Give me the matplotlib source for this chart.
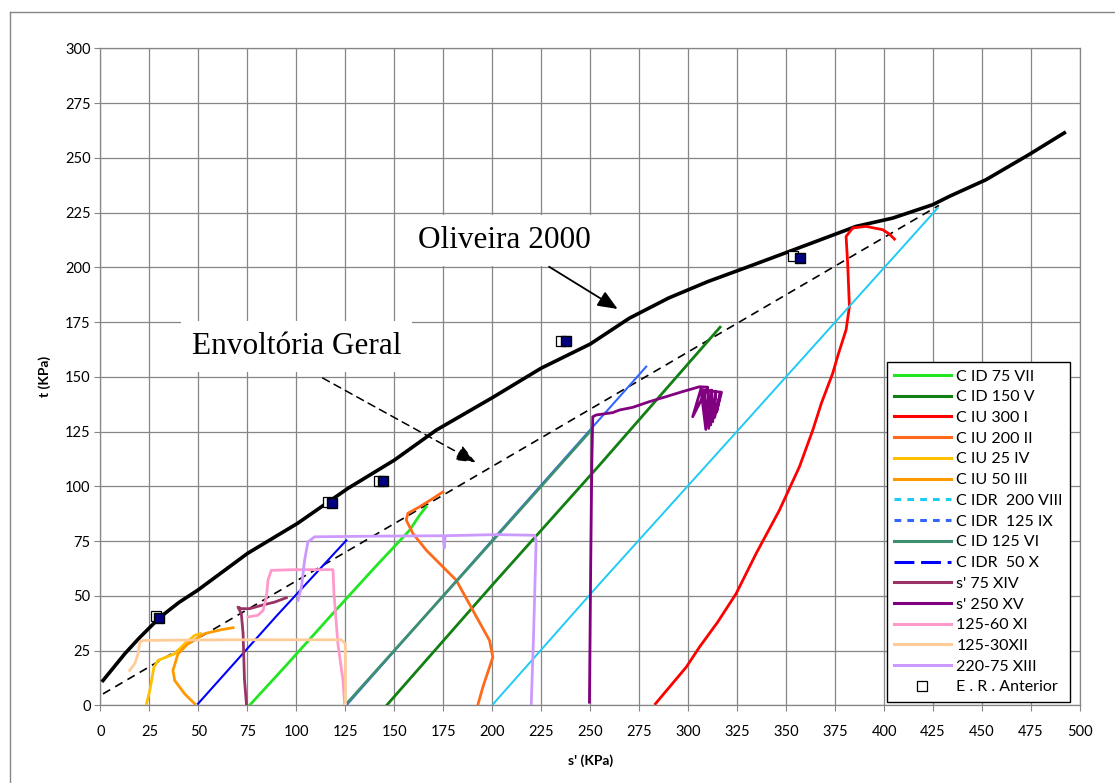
import matplotlib.pyplot as plt
from matplotlib.lines import Line2D

# values (s' and t in kPa)
oliveira_x = [1.3, 12.6, 20, 30.3, 40, 49.6, 75.2, 100.7, 126.3, 150, 171.4, 200, 225, 250,
              270, 290, 310, 331, 351.7, 385.7, 404.4, 424.8, 433.3, 452, 474, 492]
oliveira_y = [11.4, 23.8, 31, 40.2, 47, 52.6, 69.5, 83.2, 99.1, 112, 125.7, 140.5, 154, 165,
              176.8, 186, 193.5, 200.4, 207.3, 218.7, 222.5, 228.6, 232.4, 240, 251.5, 261.4]

envolt_x = [1.3, 428]
envolt_y = [5.3, 228.3]

cid75_x = [76, 95, 117, 140, 157.8, 163, 166.3]
cid75_y = [0, 18.5, 40.4, 63, 80, 87, 90.7]

cid150_x = [146, 200, 254.7, 316.3]
cid150_y = [0, 55, 109.7, 172.7]

ciu300_x = [283.3, 291, 299, 305.8, 315, 324.5, 334.7, 346.6, 356.8, 363.6, 368, 373.8, 376.5,
            380.6, 382.3, 381.4, 380.6, 384, 390.8, 399.3, 402.7, 405.3]
ciu300_y = [0.8, 9, 17.5, 26.7, 38, 51.1, 69.4, 89.2, 109, 125.7, 138, 151.7, 160,
            171.5, 182.1, 202, 214.1, 218, 218.7, 217.2, 215.2, 212.9]

ciu200_x = [192.7, 195.2, 200.3, 198.6, 190.1, 181.6, 173.1, 166.3, 159.5, 156.1, 156.9, 162.9, 169.7, 174.8]
ciu200_y = [0.5, 8.4, 22.1, 29.7, 43.4, 57.2, 64.8, 70.9, 78.5, 84.6, 87.7, 90.7, 94.5, 97.5]

ciu25_x = [23.5, 25.2, 27.3, 29.4, 37.9, 43, 48.1, 51.2]
ciu25_y = [0.8, 6.9, 17.5, 20.6, 23.6, 28.2, 32, 32.8]

ciu50_x = [48.1, 43, 37.9, 37.0, 39.6, 44.7, 53.2, 61.7, 67.7]
ciu50_y = [0.8, 5.3, 11.4, 16, 23.6, 28.2, 32.8, 34.6, 35.5]

cidr200_x = [200.3, 255, 324.8, 427.4]
cidr200_y = [0.5, 55.8, 125, 227.1]

cidr125_x = [125.5, 200, 278.6]
cidr125_y = [0, 75.5, 154.7]

cid125_x = [126.3, 190, 250.5]
cid125_y = [1.5, 65, 125.7]

cidr50_x = [49.8, 90, 125.5]
cidr50_y = [0.8, 41, 75.4]

s75_x = [74.5, 73.5, 72.8, 71.9, 70.2, 71.9, 76.2, 82.1, 88.9, 94.9]
s75_y = [0.8, 12, 32.8, 41.9, 44.9, 44.2, 44.2, 45.7, 47.2, 49.2]

s250_x = [249.6, 250.2, 250.8, 251.3, 253, 261.5, 265, 271.7, 280.2, 288.8, 297.2, 305.8, 310,
          302.3, 306.5, 309, 308, 310.5, 310, 311.5, 312, 312.5, 314, 313.5, 316.5, 314.5, 317, 307]
s250_y = [1.5, 60, 110, 131.8, 132.6, 133.7, 134.9, 136.1, 138.7, 141, 143.3, 145.5, 145.3,
          131.8, 144.5, 126, 144, 126.5, 144.5, 128, 144, 129.5, 143.5, 131.5, 143, 134, 143, 144]

x125_60_x = [75.3, 80.4, 83, 84.7, 85.5, 87.2, 99.1, 118.7, 119.2, 121.2, 123.8, 124.6]
x125_60_y = [40.4, 41.2, 43.4, 49.5, 57.2, 61.7, 62, 62, 51.1, 28.2, 11.4, 0.8]

x125_30_x = [14.9, 17.5, 19.2, 20.1, 21.7, 65.1, 122.9, 125, 125]
x125_30_y = [16, 19.1, 23.6, 29, 29.7, 30, 30, 28.2, 0.8]

x220_75_x = [100.8, 102.6, 104.2, 105.9, 109.3, 140, 175, 175.5, 176, 202, 221.6, 222.4, 221.1, 219.9]
x220_75_y = [48, 54.1, 66.3, 74.7, 77, 77.3, 77.5, 72, 77.5, 78, 77.7, 75.4, 32.8, 0.8]

er_x = [28.5, 116, 142.3, 235, 353.5]
er_y = [41, 93, 102.5, 166.6, 205]
er2_x = [30, 118.2, 144, 237.4, 357.1]
er2_y = [40, 92.5, 102.3, 166.6, 204.2]

labels = ["C ID 75 VII", "C ID 150 V", "C IU 300 I", "C IU 200 II", "C IU 25 IV", "C IU 50 III",
          "C IDR  200 VIII", "C IDR  125 IX", "C ID 125 VI", "C IDR  50 X", "s' 75 XIV",
          "s' 250 XV", "125-60 XI", "125-30XII", "220-75 XIII"]
colors = ['#22e622', '#127f12', '#ff0000', '#ff6a1a', '#ffc000', '#ff9900', '#1ecbf5', '#3366ff',
          '#3d8f70', '#0000ff', '#993366', '#800080', '#ff99cc', '#ffcc99', '#cc99ff']
legend_styles = ['-', '-', '-', '-', '-', '-', (0, (2.2, 2.0)), (0, (2.2, 2.0)), '-',
                 (0, (6.5, 2.2)), '-', '-', '-', '-', '-']
series = [(cid75_x, cid75_y), (cid150_x, cid150_y), (ciu300_x, ciu300_y), (ciu200_x, ciu200_y),
          (ciu25_x, ciu25_y), (ciu50_x, ciu50_y), (cidr200_x, cidr200_y), (cidr125_x, cidr125_y),
          (cid125_x, cid125_y), (cidr50_x, cidr50_y), (s75_x, s75_y), (s250_x, s250_y),
          (x125_60_x, x125_60_y), (x125_30_x, x125_30_y), (x220_75_x, x220_75_y)]
line_widths = [2, 2, 2, 2, 2, 2, 1.4, 1.5, 2, 1.5, 2, 2, 2, 2, 2]

plt.rcParams['font.family'] = ['Lato', 'DejaVu Sans']

fig = plt.figure(figsize=(11.15, 7.83), dpi=100)
ax = fig.add_axes([0.0901, 0.099, 0.8785, 0.8393])

grey = '#868686'
ax.set_xlim(0, 500)
ax.set_ylim(0, 300)
ax.set_xticks(range(0, 501, 25))
ax.set_yticks(range(0, 301, 25))
ax.grid(True, color=grey, linewidth=0.9)
ax.set_axisbelow(True)
for sp in ax.spines.values():
    sp.set_color(grey)
    sp.set_linewidth(0.9)
ax.tick_params(direction='out', length=4, color=grey, labelsize=10.5, pad=3)
ax.tick_params(axis='x', pad=10)

# reference curves
ax.plot(oliveira_x, oliveira_y, color='black', lw=2.6, zorder=3)
ax.plot(envolt_x, envolt_y, color='black', lw=1.2, ls=(0, (5, 3.5)), zorder=3)

for (xs, ys), c, lw in zip(series, colors, line_widths):
    ax.plot(xs, ys, color=c, lw=lw, zorder=4)

ax.plot(er_x, er_y, ls='none', marker='s', ms=7, mfc='white', mec='black', mew=0.9, zorder=5)
ax.plot(er2_x, er2_y, ls='none', marker='s', ms=7, mfc='#000080', mec='black', mew=1.0, zorder=6)

# annotations
box = dict(boxstyle='square,pad=0.35', fc='white', ec='none')
ax.text(46.7, 160.4, 'Envoltória Geral', family='Liberation Serif', fontsize=22.5,
        va='baseline', ha='left', bbox=box, zorder=7)
ax.text(162.3, 208.7, 'Oliveira 2000', family='Liberation Serif', fontsize=22.5,
        va='baseline', ha='left', bbox=box, zorder=7)
ax.annotate('', xy=(264, 181), xytext=(229, 200.3),
            arrowprops=dict(arrowstyle='-|>,head_length=0.6,head_width=0.25', color='black',
                            lw=1.3, mutation_scale=20, shrinkA=0, shrinkB=0), zorder=7)
ax.annotate('', xy=(191.5, 111), xytext=(113.4, 149.5),
            arrowprops=dict(arrowstyle='-|>,head_length=0.6,head_width=0.25', color='black',
                            lw=1.1, ls=(0, (5, 3.5)), mutation_scale=20, shrinkA=0, shrinkB=0),
            zorder=7)

ax.set_xlabel("s' (KPa)", fontsize=10, fontweight='bold')
ax.set_ylabel('t (KPa)', fontsize=10, fontweight='bold')
ax.xaxis.set_label_coords(0.5, -0.074)
ax.yaxis.set_label_coords(-0.05, 0.5)

handles = [Line2D([], [], color=c, lw=2.2, ls=s) for c, s in zip(colors, legend_styles)]
handles.append(Line2D([], [], ls='none', marker='s', ms=7, mfc='white', mec='black', mew=0.9))
leg = ax.legend(handles, labels + ['E . R . Anterior'], loc='lower right',
                bbox_to_anchor=(0.9898, 0.0058), borderaxespad=0, fontsize=11.5,
                handlelength=3.55, handletextpad=0.35, labelspacing=0.41, borderpad=0.45,
                fancybox=False, framealpha=1, edgecolor='black')
leg.get_frame().set_linewidth(1.0)
leg.set_zorder(8)

# chart area border (left and top edges are visible in the picture)
fig.add_artist(Line2D([9.5 / 1115, 9.5 / 1115], [0, 1 - 11.7 / 783], color=grey, lw=1))
fig.add_artist(Line2D([9.5 / 1115, 1], [1 - 11.7 / 783, 1 - 11.7 / 783], color=grey, lw=1))

fig.savefig('out.png', dpi=100)
